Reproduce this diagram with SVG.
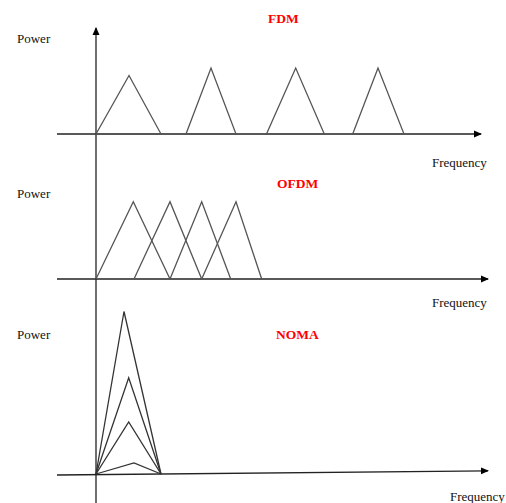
<svg xmlns="http://www.w3.org/2000/svg" width="506" height="503" viewBox="0 0 506 503">
<style>
.t{font-family:"Liberation Serif","Times New Roman",serif;font-size:13px;fill:#111}
.h{font-family:"Liberation Serif","Times New Roman",serif;font-size:13.5px;font-weight:bold;fill:#ff0000}
.ax{stroke:#222;stroke-width:1.3;fill:none}
.tri{stroke:#555;stroke-width:1.3;fill:none;stroke-linejoin:miter}
.ntri{stroke:#333;stroke-width:1.3;fill:none}
</style>
<defs>
<marker id="ah" markerWidth="8" markerHeight="8" refX="7" refY="4" orient="auto" markerUnits="userSpaceOnUse">
<path d="M0,0.5 L8,4 L0,7.5 Z" fill="#000"/>
</marker>
</defs>
<rect width="506" height="503" fill="#fff"/>
<g id="connectors">
<line class="ax" x1="96" y1="503" x2="96" y2="28" marker-end="url(#ah)"/>
<line class="ax" x1="57" y1="134" x2="481" y2="134" marker-end="url(#ah)"/>
<line class="ax" x1="57" y1="279" x2="488" y2="279" marker-end="url(#ah)"/>
<line class="ax" x1="57" y1="475" x2="488" y2="470.8" marker-end="url(#ah)"/>
</g>
<g id="fdm">
<text class="h" x="268" y="23">FDM</text>
<text class="t" x="17" y="43">Power</text>
<text class="t" x="432" y="167">Frequency</text>
<polygon class="tri" points="96,134 129,75.5 161,134"/>
<polygon class="tri" points="186,134 211,68 236,134"/>
<polygon class="tri" points="266.5,134 295.7,68 324.3,134"/>
<polygon class="tri" points="352.7,134 378,68 404,134"/>
</g>
<g id="ofdm">
<text class="h" x="277" y="188">OFDM</text>
<text class="t" x="17" y="198">Power</text>
<text class="t" x="432" y="307">Frequency</text>
<polyline class="tri" points="96,279 133.3,201.7 170,279"/>
<polyline class="tri" points="134,279 170,201.7 201.7,279"/>
<polyline class="tri" points="170,279 201.7,201.7 230.7,279"/>
<polyline class="tri" points="201.7,279 236,201.7 261.7,279"/>
</g>
<g id="noma">
<text class="h" x="276" y="339">NOMA</text>
<text class="t" x="17" y="339">Power</text>
<text class="t" x="450" y="501">Frequency</text>
<polyline class="ntri" points="96,474 124,311.5 161,474"/>
<polyline class="ntri" points="96,474 128.7,377.7 161,474"/>
<polyline class="ntri" points="96,474 128.7,422 161,474"/>
<polyline class="ntri" points="96,474 134,463 161,474"/>
</g>
</svg>
